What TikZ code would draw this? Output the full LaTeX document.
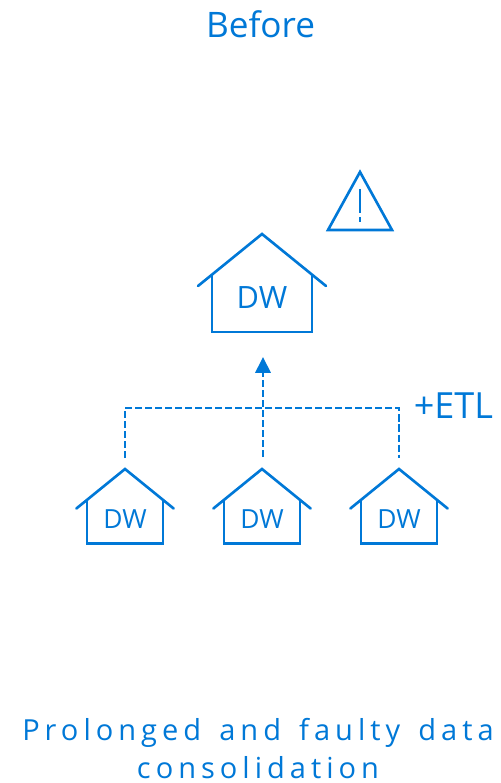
\documentclass[tikz,border=0pt]{standalone}
\usepackage{fontspec}
\setmainfont{Open Sans}
\newfontfamily\spacedfont[LetterSpace=17.3,WordSpace=1.45]{Open Sans}
\usetikzlibrary{arrows.meta}
\definecolor{dwblue}{HTML}{0078D7}
\tikzset{
	outline/.style={line width=1.5pt, color=dwblue, line cap=round, line join=miter},
	dashline/.style={line width=1.6pt, color=dwblue, dash pattern=on 4pt off 1.7pt},
	label/.style={inner sep=0pt, text=dwblue, anchor=base}
}
\def\house[#1](#2,#3){\begin{scope}[shift={(#2,#3)},scale=#1]
	\draw[outline] (-64,52) -- (0,0) -- (64,52);
	\draw[outline] (-50,41) -- (-50,98) -- (50,98) -- (50,41);
\end{scope}}

\begin{document}
\begin{tikzpicture}[x=0.02cm,y=-0.02cm]
			%%%%% START %%%%%
			\useasboundingbox (0,0) rectangle (500,783);
			
			\node[label, font=\fontsize{20}{24}\selectfont] (before) at (260.5,37.5) {Before};
			
			\draw[outline] (360,172) -- (392,230) -- (328,230) -- cycle;
			\draw[outline, line cap=butt] (360,189) -- (360,213);
			\draw[outline, line cap=butt] (360,217) -- (360,222);
			
			\house[1](262,234);
			\node[label, font=\fontsize{17.5}{20}\selectfont] (dwmain) at (262,308.5) {DW};
			
			\house[0.76](125,469);
			\node[label, font=\fontsize{15}{18}\selectfont] (dwleft) at (125,528) {DW};
			\house[0.76](262,469);
			\node[label, font=\fontsize{15}{18}\selectfont] (dwmid) at (262,528) {DW};
			\house[0.76](399,469);
			\node[label, font=\fontsize{15}{18}\selectfont] (dwright) at (399,528) {DW};
			
			\coordinate (feedleft) at (125,458);
			\coordinate (feedmid) at (263,457);
			\coordinate (feedright) at (399,458);
			\coordinate (busright) at (399,408);
			\coordinate (arrowtip) at (263,357);
			\draw[dashline] (feedleft) |- (busright) -- (feedright);
			\draw[dashline, -{Triangle[width=8.6pt, length=9pt]}] (feedmid) -- (arrowtip);
			\node[label, anchor=base west, font=\fontsize{20.5}{24}\selectfont] (etl) at (413.5,418) {+ETL};
			
			\node[label, font=\fontsize{16.5}{21.6}\spacedfont, align=center, anchor=base] (caption) at (258,778) {Prolonged and faulty data\\consolidation};
			
			%%%%% END %%%%%
		\end{tikzpicture}
\end{document}
